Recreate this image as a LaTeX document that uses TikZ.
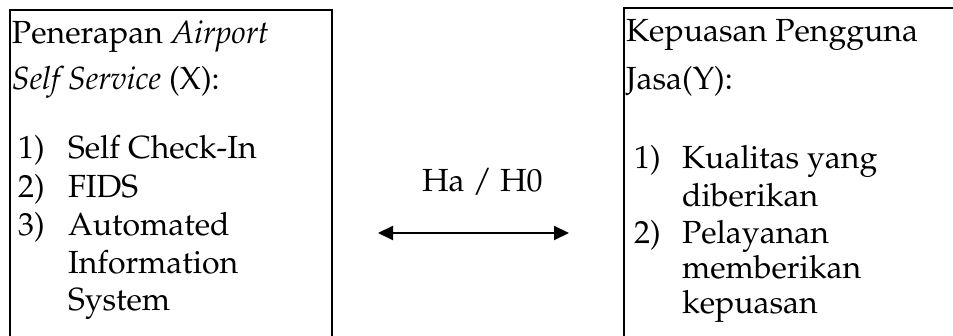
\documentclass[tikz,border=0pt]{standalone}
\usepackage[T1]{fontenc}
\usepackage{mathpazo}
\usetikzlibrary{arrows.meta}
\tikzset{
  txt/.style={anchor=base west, inner sep=0pt, outer sep=0pt, font=\fontsize{32}{38}\selectfont},
  boxline/.style={line width=2pt, black},
  arr/.style={line width=2pt, {Triangle[length=15pt,width=14pt]}-{Triangle[length=15pt,width=14pt]}}
}
\begin{document}
\begin{tikzpicture}[x=1pt,y=-1pt]
\useasboundingbox (0,0) rectangle (953,336);
% boxes
\draw[boxline] (10,345) -- (10,10) -- (332,10) -- (332,345);
\draw[boxline] (624,345) -- (624,8) -- (960,8);
% left text
\node[txt] (l1) at (12,44) {Penerapan \textit{Airport}};
\node[txt] (l2) at (12,90) {\textit{Self Service} (X):};
\node[txt] (ln1) at (18,159) {1)};
\node[txt] (li1) at (68,159) {Self Check-In};
\node[txt] (ln2) at (18,198) {2)};
\node[txt] (li2) at (68,198) {FIDS};
\node[txt] (ln3) at (18,236) {3)};
\node[txt] (li3) at (68,236) {Automated};
\node[txt] (li3b) at (68,274) {Information};
\node[txt] (li3c) at (68,311) {System};
% right text
\node[txt] (r1) at (626,42) {Kepuasan Pengguna};
\node[txt] (r2) at (626,90) {Jasa(Y):};
\node[txt] (rn1) at (634,169) {1)};
\node[txt] (ri1) at (682,169) {Kualitas yang};
\node[txt] (ri1b) at (682,207) {diberikan};
\node[txt] (rn2) at (634,244) {2)};
\node[txt] (ri2) at (682,244) {Pelayanan};
\node[txt] (ri2b) at (682,279) {memberikan};
\node[txt] (ri2c) at (682,314) {kepuasan};
% middle
\node[txt] (h) at (422,192) {Ha / H0};
\coordinate (aL) at (378,233);
\coordinate (aR) at (569,233);
\draw[arr] (aL) -- (aR);
\end{tikzpicture}
\end{document}
